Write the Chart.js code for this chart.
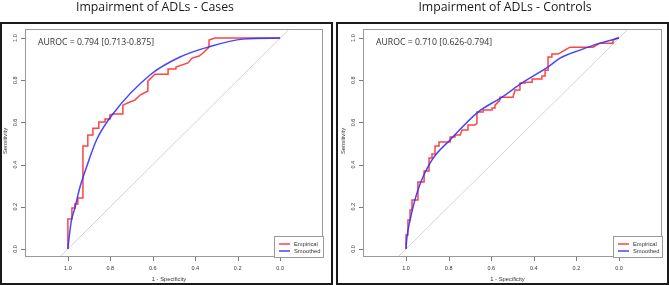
<!DOCTYPE html>
<html><head><meta charset="utf-8">
<script src="https://cdn.jsdelivr.net/npm/chart.js@4/dist/chart.umd.min.js"></script>
<style>
html,body{margin:0;padding:0;background:#fff;}
#wrap{position:relative;width:669px;height:285px;overflow:hidden;}
.pan{position:absolute;top:0;height:285px;width:334px;}
canvas{display:block;}
</style></head><body>
<div id="wrap">
<div class="pan" style="left:0"><canvas id="c1" width="334" height="285"></canvas></div>
<div class="pan" style="left:335px"><canvas id="c2" width="334" height="285"></canvas></div>
</div>
<script>
// ---------- data ----------
const panelTitles = ["Impairment of ADLs - Cases", "Impairment of ADLs - Controls"];
const aurocLabels = ["AUROC = 0.794 [0.713-0.875]", "AUROC = 0.710 [0.626-0.794]"];
const legendLabels = ["Empirical", "Smoothed"];
const xAxisTitle = "1 - Specificity";
const yAxisTitle = "Sensitivity";
const axisTicks = [0, 0.2, 0.4, 0.6, 0.8, 1.0];

const casesEmpSpec = [1,1,0.981,0.981,0.967,0.967,0.953,0.953,0.929,0.929,0.906,0.906,0.882,0.882,0.854,0.854,0.825,0.825,0.802,0.802,0.788,0.741,0.741,0.708,0.684,0.660,0.623,0.623,0.590,0.528,0.528,0.495,0.491,0.434,0.415,0.382,0.363,0.335,0.335,0.307,0];
const casesEmpSens = [0,0.142,0.142,0.194,0.194,0.213,0.213,0.242,0.242,0.488,0.488,0.540,0.540,0.573,0.573,0.602,0.602,0.616,0.616,0.635,0.640,0.640,0.682,0.697,0.706,0.730,0.749,0.796,0.829,0.829,0.853,0.853,0.863,0.882,0.905,0.915,0.929,0.957,0.991,1,1];
const casesSmoothSpec = [1,0.994,0.983,0.967,0.943,0.912,0.865,0.788,0.613,0.472,0.340,0.175,0];
const casesSmoothSens = [0,0.057,0.137,0.194,0.294,0.389,0.517,0.640,0.825,0.910,0.957,0.995,1];

const controlsEmpSpec = [1,1,0.991,0.991,0.981,0.981,0.972,0.972,0.944,0.944,0.915,0.915,0.892,0.892,0.878,0.878,0.864,0.864,0.845,0.845,0.793,0.793,0.770,0.770,0.746,0.737,0.709,0.709,0.676,0.667,0.667,0.638,0.638,0.596,0.596,0.582,0.582,0.559,0.559,0.498,0.488,0.465,0.465,0.441,0.441,0.408,0.408,0.362,0.362,0.347,0.347,0.333,0.333,0.315,0.315,0.286,0.254,0.230,0.122,0.089,0.028,0.028,0.009,0];
const controlsEmpSens = [0,0.066,0.066,0.137,0.137,0.185,0.185,0.232,0.232,0.318,0.318,0.370,0.370,0.431,0.431,0.450,0.450,0.488,0.488,0.507,0.507,0.531,0.531,0.540,0.540,0.564,0.564,0.588,0.588,0.597,0.649,0.649,0.659,0.659,0.668,0.668,0.682,0.706,0.720,0.720,0.754,0.754,0.787,0.787,0.791,0.791,0.806,0.806,0.820,0.820,0.848,0.848,0.910,0.910,0.924,0.924,0.943,0.957,0.957,0.976,0.976,0.991,1,1];
const controlsSmoothSpec = [1,0.997,0.981,0.944,0.878,0.793,0.662,0.549,0.455,0.333,0.277,0.183,0.089,0];
const controlsSmoothSens = [0,0.043,0.137,0.280,0.422,0.517,0.649,0.720,0.787,0.863,0.905,0.943,0.976,1];

// ---------- helpers ----------
const zip = (xs, ys) => xs.map((v, i) => ({x: v, y: ys[i]}));
const RED = 'rgba(255,45,45,0.9)';
const BLUE = 'rgba(50,50,255,0.9)';
const SANS = '"Liberation Sans", Arial, sans-serif';
const UI = '"Open Sans", "Noto Sans", sans-serif';

const panelPlugin = {
  id: 'panelDeco',
  afterDraw(chart, args, o) {
    const {ctx, chartArea: a, scales: {x, y}} = chart;
    ctx.save();
    // outer panel frame
    ctx.strokeStyle = '#1a1a1a';
    ctx.lineWidth = 2;
    ctx.strokeRect(o.frameL + 1, 23, o.frameW - 2, 261);
    // inner plot box
    ctx.strokeStyle = '#9a9a9a';
    ctx.lineWidth = 1;
    ctx.strokeRect(a.left + 0.5, a.top + 0.5, a.right - a.left - 1, a.bottom - a.top - 1);
    // ticks
    ctx.strokeStyle = '#7a7a7a';
    axisTicks.forEach(v => {
      const px = Math.round(x.getPixelForValue(v)) + 0.5;
      ctx.beginPath(); ctx.moveTo(px, a.bottom); ctx.lineTo(px, a.bottom + 4); ctx.stroke();
      const py = Math.round(y.getPixelForValue(v)) + 0.5;
      ctx.beginPath(); ctx.moveTo(a.left, py); ctx.lineTo(a.left - 4, py); ctx.stroke();
    });
    ctx.fillStyle = '#333';
    ctx.font = '5.5px ' + SANS;
    ctx.textAlign = 'center';
    ctx.textBaseline = 'middle';
    axisTicks.forEach(v => {
      ctx.fillText(v.toFixed(1), x.getPixelForValue(v), a.bottom + 11);
      ctx.save();
      ctx.translate(a.left - 10, y.getPixelForValue(v));
      ctx.rotate(-Math.PI / 2);
      ctx.fillText(v.toFixed(1), 0, 0);
      ctx.restore();
    });
    // axis titles
    ctx.font = '5.8px ' + SANS;
    ctx.fillText(xAxisTitle, (a.left + a.right) / 2 - 5, 279);
    ctx.save();
    ctx.translate(o.yTitleX, 141);
    ctx.rotate(-Math.PI / 2);
    ctx.fillText(yAxisTitle, 0, 0);
    ctx.restore();
    // legend
    const lx = a.right - 49, ly = a.bottom - 21;
    ctx.fillStyle = '#fff';
    ctx.fillRect(lx, ly, 49, 21);
    ctx.strokeStyle = '#9a9a9a';
    ctx.strokeRect(lx + 0.5, ly + 0.5, 49, 21);
    [[RED, legendLabels[0], 8], [BLUE, legendLabels[1], 15]].forEach(([c, t, dy]) => {
      ctx.strokeStyle = c; ctx.lineWidth = 1.5;
      ctx.beginPath(); ctx.moveTo(lx + 5, ly + dy); ctx.lineTo(lx + 16, ly + dy); ctx.stroke();
      ctx.fillStyle = '#333';
      ctx.textAlign = 'left';
      ctx.font = '5.8px ' + SANS;
      ctx.fillText(t, lx + 20, ly + dy);
    });
    // AUROC text
    ctx.fillStyle = '#333';
    ctx.textAlign = 'left';
    ctx.font = '8.7px ' + UI;
    ctx.fillText(o.auroc, a.left + 13, a.top + 14);
    // title
    ctx.fillStyle = '#1a1a1a';
    ctx.textAlign = 'center';
    ctx.font = '12.3px ' + UI;
    ctx.fillText(o.title, o.titleX, 7);
    ctx.restore();
  }
};

function makeChart(id, emp, smooth, opt) {
  return new Chart(document.getElementById(id), {
    type: 'line',
    data: {
      datasets: [
        {data: [{x: 1.25, y: -0.25}, {x: -0.25, y: 1.25}], borderColor: '#d4d4d4', borderWidth: 1, pointRadius: 0, order: 3},
        {data: emp, borderColor: RED, borderWidth: 1.5, pointRadius: 0, tension: 0, order: 2},
        {data: smooth, borderColor: BLUE, borderWidth: 1.5, pointRadius: 0, cubicInterpolationMode: 'monotone', order: 1}
      ]
    },
    options: {
      responsive: false,
      animation: false,
      devicePixelRatio: 1,
      events: [],
      layout: {padding: {top: 29, right: opt.padRight, left: 0, bottom: 0}},
      plugins: {legend: {display: false}, tooltip: {enabled: false}, title: {display: false}, panelDeco: opt},
      scales: {
        x: {
          type: 'linear', reverse: true, min: -0.202, max: 1.202,
          grid: {display: false}, border: {display: false}, ticks: {display: false},
          afterFit: s => { s.height = 28; }
        },
        y: {
          type: 'linear', min: -0.038, max: 1.043,
          grid: {display: false}, border: {display: false}, ticks: {display: false},
          afterFit: s => { s.width = opt.yWidth; }
        }
      }
    },
    plugins: [panelPlugin]
  });
}

makeChart('c1', zip(casesEmpSpec, casesEmpSens), zip(casesSmoothSpec, casesSmoothSens),
  {padRight: 11, yWidth: 25, frameL: 0, frameW: 333, yTitleX: 5, titleX: 155, title: panelTitles[0], auroc: aurocLabels[0]});
makeChart('c2', zip(controlsEmpSpec, controlsEmpSens), zip(controlsSmoothSpec, controlsSmoothSens),
  {padRight: 7, yWidth: 28, frameL: 1, frameW: 333, yTitleX: 8, titleX: 170, title: panelTitles[1], auroc: aurocLabels[1]});
</script>
</body></html>
